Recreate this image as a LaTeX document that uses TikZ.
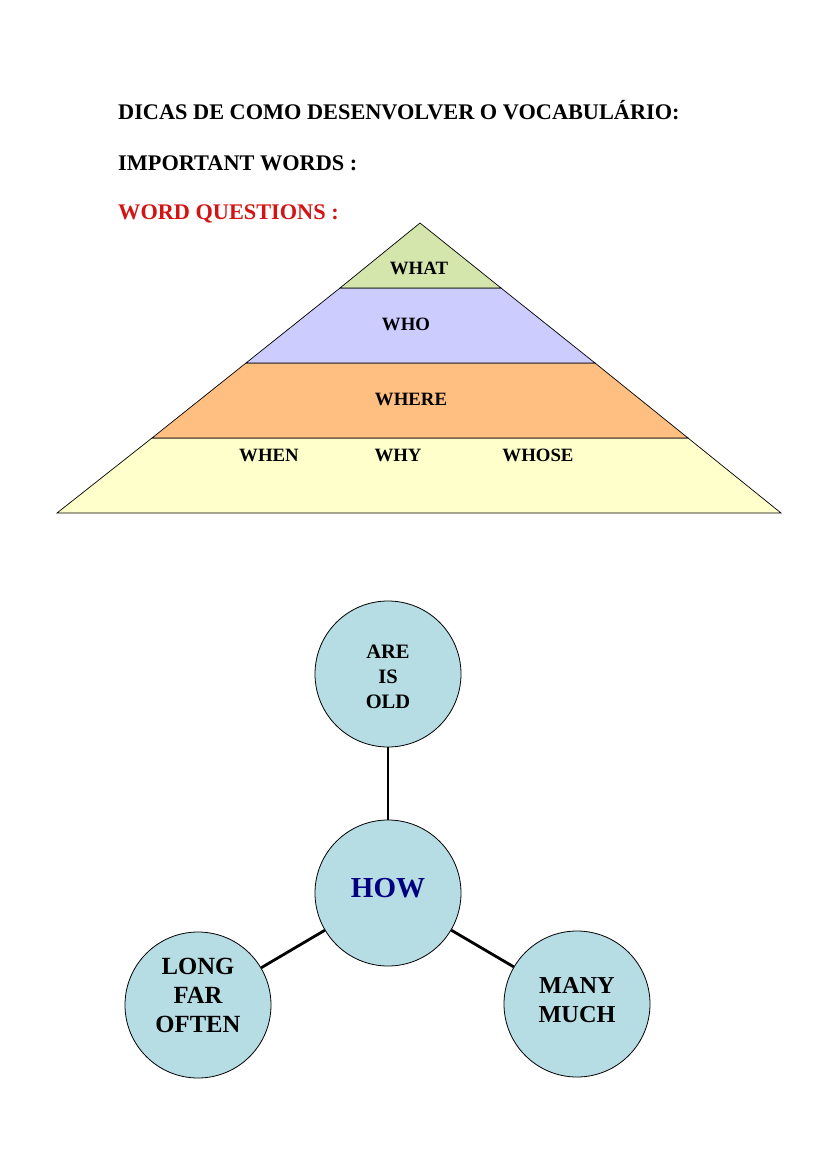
\documentclass[tikz,border=0pt]{standalone}
\usepackage{fontspec}
\setmainfont{Liberation Serif}
\usepackage{xcolor}

\definecolor{whatgreen}{RGB}{212,230,172}
\definecolor{wholilac}{RGB}{204,204,255}
\definecolor{whereorange}{RGB}{255,191,128}
\definecolor{whenyellow}{RGB}{255,255,204}
\definecolor{bubble}{RGB}{183,221,228}
\definecolor{hownavy}{RGB}{0,0,128}
\definecolor{headred}{RGB}{210,20,20}

\tikzset{
  heading/.style={anchor=west, inner sep=0pt, font=\fontsize{22.3}{26}\selectfont\bfseries},
  layerword/.style={inner sep=0pt, font=\fontsize{18.8}{22}\selectfont\bfseries},
  bubblenode/.style={circle, draw=black, line width=0.8pt, fill=bubble,
    minimum size=146pt, inner sep=0pt},
  bubbletext/.style={inner sep=0pt, align=center},
  spoke/.style={line width=2.8pt}
}

\begin{document}
\begin{tikzpicture}[x=1pt,y=-1pt]
    \useasboundingbox[fill=white] (0,0) rectangle (821,1169);

    \node[heading] (dicas) at (118,110) {DICAS DE COMO DESENVOLVER O VOCABULÁRIO:};
    \node[heading] (important) at (118,163) {IMPORTANT WORDS :};
    \node[heading, text=headred] (wq) at (118,214) {WORD QUESTIONS :};

    % pyramid
    \filldraw[fill=whenyellow, line width=0.7pt]
      (152,438) -- (688,438) -- (781,513) -- (57,513) -- cycle;
    \filldraw[fill=whereorange, line width=0.7pt]
      (246,363) -- (595,363) -- (688,438) -- (152,438) -- cycle;
    \filldraw[fill=wholilac, line width=0.7pt]
      (340,288) -- (501,288) -- (595,363) -- (246,363) -- cycle;
    \filldraw[fill=whatgreen, line width=0.7pt]
      (420,223) -- (501,288) -- (340,288) -- cycle;

    \node[layerword] (what) at (419,268) {WHAT};
    \node[layerword] (who) at (406,324) {WHO};
    \node[layerword] (where) at (411,399) {WHERE};
    \node[layerword] (when) at (269,455) {WHEN};
    \node[layerword] (why) at (398,455) {WHY};
    \node[layerword] (whose) at (538,455) {WHOSE};

    % how bubbles
    \node[bubblenode] (areisold) at (388,674) {};
    \node[bubblenode] (how) at (388,893) {};
    \node[bubblenode] (longfar) at (198,1005) {};
    \node[bubblenode] (manymuch) at (577,1004) {};

    \node[bubbletext, font=\fontsize{20.5}{25}\selectfont\bfseries]
      (areisoldtext) at ([yshift=-3pt]areisold.center) {ARE\\IS\\OLD};
    \node[bubbletext, font=\fontsize{29}{32}\selectfont\bfseries, text=hownavy]
      (howtext) at ([yshift=5pt]how.center) {HOW};
    \node[bubbletext, font=\fontsize{24.7}{29}\selectfont\bfseries]
      (longfartext) at ([yshift=10pt]longfar.center) {LONG\\FAR\\OFTEN};
    \node[bubbletext, font=\fontsize{24.3}{29}\selectfont\bfseries]
      (manymuchtext) at ([yshift=3.5pt]manymuch.center) {MANY\\MUCH};

    \draw[spoke] (areisold) -- (how);
    \draw[spoke] (how) -- (longfar);
    \draw[spoke] (how) -- (manymuch);
  \end{tikzpicture}
\end{document}
